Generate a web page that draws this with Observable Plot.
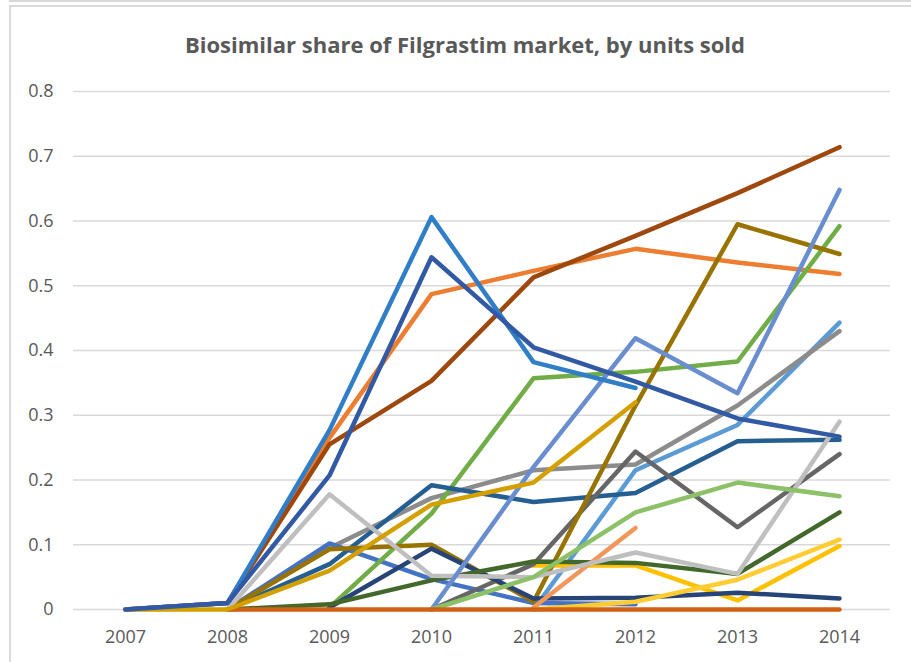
<!DOCTYPE html>
<html><head><meta charset="utf-8">
<script src="https://cdn.jsdelivr.net/npm/d3@7"></script>
<script src="https://cdn.jsdelivr.net/npm/@observablehq/plot@0.6"></script>
<style>
body{margin:0;background:#fff;width:911px;height:662px;overflow:hidden;position:relative;font-family:"Open Sans",sans-serif}
#prev{position:absolute;left:9px;top:-20px;width:1000px;height:18px;border:2px solid #d9d9d9}
#frame{position:absolute;left:9px;top:5px;width:1000px;height:1000px;border:2px solid #d9d9d9}
#title{position:absolute;top:30px;left:465px;transform:translateX(-50%);white-space:nowrap;font-weight:700;font-size:22px;line-height:28px;color:#595959}
#chart{position:absolute;left:0;top:80px}
</style></head>
<body>
<div id="prev"></div><div id="frame"></div>
<div id="title">Biosimilar share of Filgrastim market, by units sold</div>
<div id="chart"></div>
<script>
const years = [2007, 2008, 2009, 2010, 2011, 2012, 2013, 2014];
const yTicks = [0, 0.1, 0.2, 0.3, 0.4, 0.5, 0.6, 0.7, 0.8];

const s01 = [null, null, null, null, 0, 0.215, 0.285, 0.443];
const s02 = [0, 0.01, 0.265, 0.487, 0.523, 0.557, 0.536, 0.518];
const s03 = [null, 0, 0.095, 0.172, 0.215, 0.224, 0.315, 0.43];
const s04 = [null, null, null, null, 0.068, 0.068, 0.014, 0.098];
const s05 = [null, 0, 0.102, 0.047, 0.01, 0.008, null, null];
const s06 = [null, null, 0.003, 0.148, 0.357, 0.367, 0.383, 0.592];
const s07 = [null, 0, 0.07, 0.192, 0.166, 0.18, 0.26, 0.262];
const s08 = [0, 0.01, 0.255, 0.353, 0.513, 0.577, 0.643, 0.714];
const s09 = [null, null, null, 0, 0.07, 0.244, 0.127, 0.24];
const s10 = [null, 0, 0.093, 0.1, 0.012, 0.315, 0.595, 0.549];
const s11 = [null, null, 0.003, 0.094, 0.017, 0.018, 0.026, 0.017];
const s12 = [null, 0, 0.008, 0.045, 0.074, 0.072, 0.055, 0.15];
const s13 = [null, null, null, null, 0.003, 0.126, null, null];
const s14 = [null, 0, 0.178, 0.052, 0.05, 0.088, 0.055, 0.29];
const s15 = [null, null, null, null, 0, 0.012, 0.046, 0.108];
const s16 = [null, null, null, 0, 0.22, 0.419, 0.334, 0.648];
const s17 = [null, null, null, 0, 0.05, 0.15, 0.196, 0.175];
const s18 = [0, 0.01, 0.277, 0.606, 0.382, 0.342, null, null];
const s19 = [null, 0, 0, 0, 0, 0, 0, 0];
const s20 = [0, 0, 0.06, 0.162, 0.196, 0.32, null, null];
const s21 = [0, 0.01, 0.207, 0.544, 0.405, 0.352, 0.295, 0.267];

const seriesNames = ["s01","s02","s03","s04","s05","s06","s07","s08","s09","s10","s11","s12","s13","s14","s15","s16","s17","s18","s19","s20","s21"];
const seriesValues = [s01,s02,s03,s04,s05,s06,s07,s08,s09,s10,s11,s12,s13,s14,s15,s16,s17,s18,s19,s20,s21];
const seriesColors = ["#5B9BD5","#ED7D31","#8C8C8C","#FFC000","#4472C4","#70AD47","#255E91","#9E480E","#666666","#997300","#264478","#43682B","#F1975A","#BFBFBF","#FFCD33","#698ED0","#8CC168","#2F7EC7","#D26012","#D4A000","#3259A4"];

const rows = [];
seriesNames.forEach((name, i) => {
  seriesValues[i].forEach((v, j) => {
    if (v !== null) rows.push({series: name, year: years[j], value: v});
  });
});

const chart = Plot.plot({
  width: 911,
  height: 582,
  marginTop: 11,
  marginBottom: 53,
  marginLeft: 73,
  marginRight: 21,
  style: {fontFamily: "'Open Sans', sans-serif", fontSize: "18px", color: "#595959", background: "transparent", overflow: "visible"},
  x: {type: "point", domain: years, padding: 0.5},
  y: {domain: [0, 0.8]},
  color: {domain: seriesNames, range: seriesColors},
  marks: [
    Plot.gridY(yTicks, {stroke: "#d9d9d9", strokeOpacity: 1, strokeWidth: 1.3}),
    Plot.axisY(yTicks, {tickSize: 0, tickPadding: 20, tickFormat: d => d === 0 ? "0" : d3.format(".1f")(d), label: null}),
    Plot.axisX(years, {tickSize: 0, tickPadding: 21, tickFormat: d => String(d), label: null}),
    Plot.line(rows, {x: "year", y: "value", z: "series", stroke: "series", strokeWidth: 4.5, strokeLinecap: "round", strokeLinejoin: "round"})
  ]
});
document.getElementById("chart").appendChild(chart);
</script>
</body></html>
